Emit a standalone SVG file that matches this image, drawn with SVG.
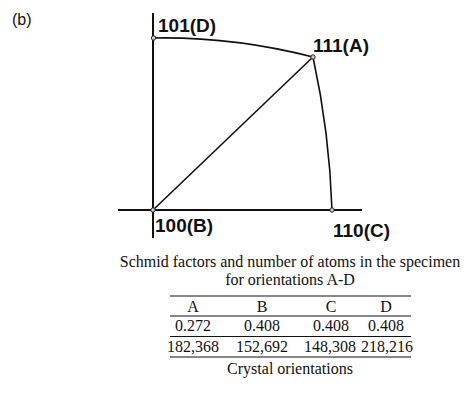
<svg xmlns="http://www.w3.org/2000/svg" width="470" height="410" viewBox="0 0 470 410">
<style>
.lbl{font-family:"Liberation Sans",Arial,sans-serif;font-size:19px;font-weight:bold;fill:#111}
.tab{font-family:"Liberation Serif","Times New Roman",serif;font-size:16px;fill:#111}
.ln{stroke:#111;stroke-width:1.6;fill:none}
.ax{stroke:#111;stroke-width:2;fill:none}
.pt{fill:#ccc;stroke:#222;stroke-width:1}
.rule{stroke:#111;stroke-width:1.2}
</style>
<rect width="470" height="410" fill="#fff"/>
<text x="12" y="25" style="font-family:'Liberation Sans',Arial,sans-serif;font-size:16px;fill:#111">(b)</text>
<g id="connectors">
<line class="ax" x1="153" y1="13" x2="153" y2="238"/>
<line class="ax" x1="118" y1="210" x2="362" y2="210"/>
<line class="ln" x1="153" y1="210" x2="313" y2="57"/>
<path class="ln" d="M153,38 Q233,36.5 313,57"/>
<path class="ln" d="M313,57 Q329.5,132.5 332,210"/>
</g>
<g id="node-D"><circle class="pt" cx="153.5" cy="38" r="2.2"/><text class="lbl" x="158" y="32">101(D)</text></g>
<g id="node-A"><circle class="pt" cx="313" cy="57" r="2.2"/><text class="lbl" x="313" y="52">111(A)</text></g>
<g id="node-B"><circle class="pt" cx="153" cy="210" r="2.2"/><text class="lbl" x="155" y="232">100(B)</text></g>
<g id="node-C"><circle class="pt" cx="332" cy="210" r="2.2"/><text class="lbl" x="333" y="237">110(C)</text></g>
<g id="table" class="tab" text-anchor="middle">
<text x="290" y="267">Schmid factors and number of atoms in the specimen</text>
<text x="290" y="285">for orientations A-D</text>
<line class="rule" x1="170" y1="296" x2="411" y2="296"/>
<line class="rule" x1="170" y1="316" x2="411" y2="316"/>
<line class="rule" x1="170" y1="336.5" x2="411" y2="336.5"/>
<line class="rule" x1="170" y1="357" x2="411" y2="357"/>
<text x="193" y="312">A</text><text x="262" y="312">B</text><text x="331" y="312">C</text><text x="386" y="312">D</text>
<text x="193" y="331">0.272</text><text x="262" y="331">0.408</text><text x="331" y="331">0.408</text><text x="386" y="331">0.408</text>
<text x="193" y="352">182,368</text><text x="262" y="352">152,692</text><text x="330" y="352">148,308</text><text x="387" y="352">218,216</text>
<text x="290" y="374">Crystal orientations</text>
</g>
</svg>
